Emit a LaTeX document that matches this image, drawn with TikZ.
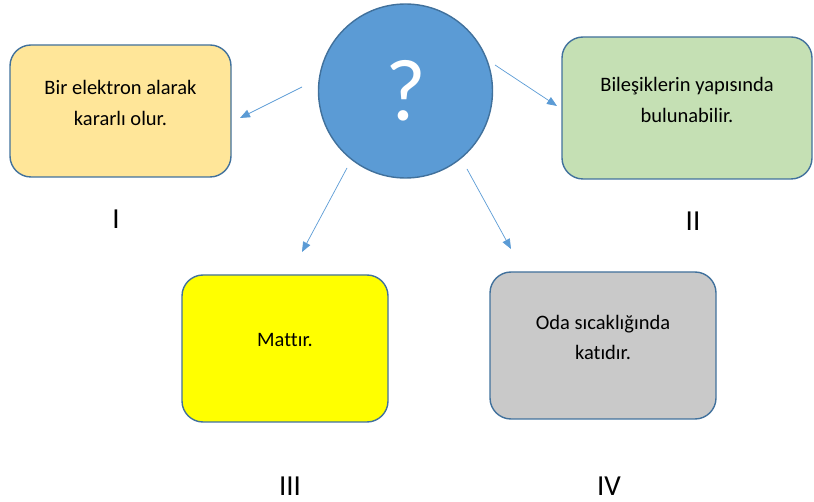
\documentclass[tikz,border=0pt]{standalone}
\usepackage{fontspec}
\setmainfont{Carlito}[Ligatures=NoCommon]
\definecolor{CircleBlue}{RGB}{91,155,213}
\definecolor{EdgeBlue}{RGB}{65,113,156}
\definecolor{ArrowBlue}{RGB}{91,155,213}
\definecolor{SoftOrange}{RGB}{255,230,153}
\definecolor{SoftGreen}{RGB}{197,224,180}
\definecolor{BrightYellow}{RGB}{255,255,0}
\definecolor{LightGray}{RGB}{201,201,201}
\usetikzlibrary{arrows.meta, positioning}

\begin{document}
\begin{tikzpicture}[x=1pt, y=-1pt,
    kutu/.style={draw=EdgeBlue, line width=1.4pt, rounded corners=21pt, inner sep=0pt},
    metin/.style={align=center, font=\fontsize{20.5}{30.7}\selectfont, inner sep=0pt},
    numara/.style={font=\fontsize{29}{30}\selectfont, inner sep=0pt},
    ok/.style={draw=ArrowBlue, line width=0.7pt, -{Triangle[length=10pt, width=8pt]}}]
  \useasboundingbox (0,0) rectangle (814,502);

  % center circle
  \node[circle, draw=EdgeBlue, line width=1.4pt, fill=CircleBlue, minimum size=174pt,
        inner sep=0pt, text=white, font=\fontsize{88}{90}\selectfont] (soru) at (405.5,91) {?};

  % boxes
  \node[kutu, fill=SoftOrange, minimum width=221pt, minimum height=132pt] (kutuI) at (120.5,111) {};
  \node[kutu, fill=SoftGreen, minimum width=250pt, minimum height=142pt] (kutuII) at (687,108) {};
  \node[kutu, fill=BrightYellow, minimum width=206pt, minimum height=147pt] (kutuIII) at (285,348.5) {};
  \node[kutu, fill=LightGray, minimum width=226pt, minimum height=147pt] (kutuIV) at (603,345.5) {};

  \node[metin] (metinI) at ([yshift=8pt]kutuI.center) {Bir elektron alarak\\kararlı olur.};
  \node[metin] (metinII) at ([yshift=8pt]kutuII.center) {Bileşiklerin yapısında\\bulunabilir.};
  \node[metin] (metinIII) at ([yshift=8pt]kutuIII.center) {Mattır.};
  \node[metin] (metinIV) at ([yshift=8pt]kutuIV.center) {Oda sıcaklığında\\katıdır.};

  % roman numerals
  \node[numara] (numI) at (116,219) {I};
  \node[numara] (numII) at (693,221) {II};
  \node[numara] (numIII) at (290,486) {III};
  \node[numara] (numIV) at (609,486) {IV};

  % arrows
  \coordinate (okIbas) at (302,87);    \coordinate (okIuc) at (240,118);
  \coordinate (okIIbas) at (495,65);   \coordinate (okIIuc) at (557,106);
  \coordinate (okIIIbas) at (347,168); \coordinate (okIIIuc) at (302,252);
  \coordinate (okIVbas) at (467,169);  \coordinate (okIVuc) at (511,249);
  \draw[ok] (okIbas) -- (okIuc);
  \draw[ok] (okIIbas) -- (okIIuc);
  \draw[ok] (okIIIbas) -- (okIIIuc);
  \draw[ok] (okIVbas) -- (okIVuc);
\end{tikzpicture}
\end{document}
